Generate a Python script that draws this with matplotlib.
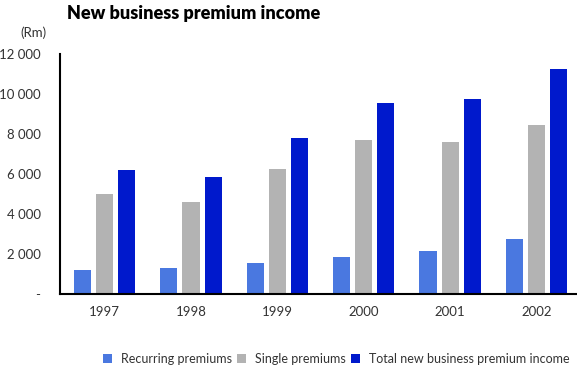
import matplotlib
matplotlib.use("Agg")
import matplotlib.pyplot as plt
import numpy as np
from matplotlib.patches import Patch

years = ["1997", "1998", "1999", "2000", "2001", "2002"]
recurring = [1200, 1290, 1540, 1840, 2140, 2740]
single = [5020, 4580, 6270, 7710, 7610, 8460]
total = [6220, 5870, 7810, 9550, 9750, 11240]
series_names = ["Recurring premiums", "Single premiums", "Total new business premium income"]
colors = ["#4A78E0", "#B3B3B3", "#0019CC"]
yticks = [0, 2000, 4000, 6000, 8000, 10000, 12000]
ytick_labels = ["-", "2 000", "4 000", "6 000", "8 000", "10 000", "12 000"]

plt.rcParams['font.family'] = ['Lato', 'DejaVu Sans']

W, H = 577, 370
fig = plt.figure(figsize=(W / 100, H / 100), dpi=100)
ax = fig.add_axes([60 / W, (H - 294) / H, (577 - 60) / W, (294 - 54) / H])

x = np.arange(len(years))
bw = 0.198
step = 0.256
for i, (vals, c) in enumerate(zip([recurring, single, total], colors)):
    ax.bar(x + (i - 1) * step, vals, width=bw, color=c, label=series_names[i], zorder=2)

ax.set_xlim(-0.517, 5.47)
ax.set_ylim(0, 12000)
ax.set_yticks(yticks)
ax.set_yticklabels(ytick_labels)
ax.set_xticks(x)
ax.set_xticklabels(years)
ax.tick_params(axis='both', length=0, labelsize=9.5, colors='#333333')
ax.tick_params(axis='y', pad=14)
ax.tick_params(axis='x', pad=9)
for lab in ax.get_yticklabels():
    lab.set_horizontalalignment('right')
for s in ['top', 'right']:
    ax.spines[s].set_visible(False)
ax.spines['left'].set_linewidth(1.5)
ax.spines['bottom'].set_linewidth(1.5)
ax.spines['left'].set_color('black')
ax.spines['bottom'].set_color('black')

fig.text(67 / W, 1 - 14 / H, "New business premium income", fontsize=13,
         fontweight='heavy', ha='left', va='center', color='black')
fig.text(33 / W, 1 - 33 / H, "(Rm)", fontsize=9.5, ha='center', va='center', color='#333333')

handles = [Patch(facecolor=c, edgecolor='none') for c in colors]
fig.legend(handles, series_names, loc='center left', bbox_to_anchor=(99 / W, 1 - 359 / H),
           ncol=3, frameon=False, fontsize=9, handlelength=0.7, handleheight=0.7,
           handletextpad=0.75, columnspacing=0.4, labelcolor='#333333',
           borderaxespad=0, borderpad=0.3)

fig.savefig("out.png", dpi=100)
